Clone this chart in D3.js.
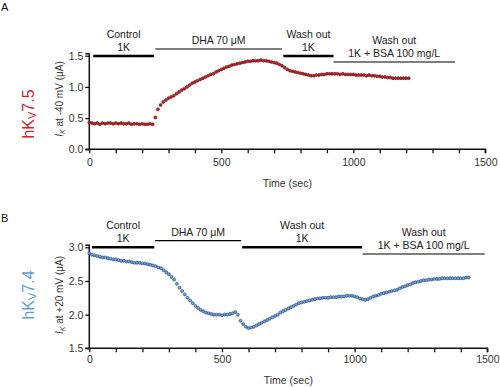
<!DOCTYPE html>
<html>
<head>
<meta charset="utf-8">
<script src="https://cdn.jsdelivr.net/npm/d3@7"></script>
<style>
  body { margin: 0; background: #fff; }
  text { font-family: "Liberation Sans", Arial, sans-serif; }
</style>
</head>
<body>
<div id="chart"></div>
<script>
// panel A: hKv7.5, current at -40 mV (uA), read every 10 s
const timeA = [0,10,20,30,40,50,60,70,80,90,100,110,120,130,140,150,160,170,180,190,200,210,220,230,240,
  250,260,270,280,290,300,310,320,330,340,350,360,370,380,390,400,410,420,430,440,450,460,470,480,490,
  500,510,520,530,540,550,560,570,580,590,600,610,620,630,640,650,660,670,680,690,700,710,720,730,740,
  750,760,770,780,790,800,810,820,830,840,850,860,870,880,890,900,910,920,930,940,950,960,970,980,990,
  1000,1010,1020,1030,1040,1050,1060,1070,1080,1090,1100,1110,1120,1130,1140,1150,1160,1170,1180,1190,1200,1210];
const currentA = [0.43,0.42,0.41,0.42,0.40,0.42,0.41,0.42,0.42,0.41,0.42,0.41,0.42,0.41,0.41,0.42,0.40,0.41,0.41,0.40,0.41,0.40,0.40,0.41,0.40,
  0.51,0.64,0.71,0.76,0.79,0.82,0.84,0.86,0.89,0.92,0.95,0.97,1.00,1.03,1.06,1.08,1.10,1.12,1.14,1.16,1.18,1.20,1.21,1.24,1.26,
  1.28,1.30,1.32,1.33,1.35,1.36,1.37,1.38,1.39,1.40,1.41,1.41,1.42,1.42,1.42,1.43,1.42,1.42,1.41,1.40,1.39,1.38,1.36,1.34,1.31,
  1.28,1.26,1.25,1.24,1.23,1.22,1.21,1.20,1.19,1.18,1.18,1.19,1.19,1.20,1.20,1.21,1.21,1.21,1.21,1.21,1.20,1.21,1.20,1.20,1.20,
  1.20,1.19,1.19,1.19,1.19,1.18,1.19,1.18,1.18,1.17,1.17,1.16,1.16,1.15,1.15,1.14,1.14,1.14,1.14,1.14,1.14,1.14];

// panel B: hKv7.4, current at +20 mV (uA), read every 10 s
const timeB = [0,10,20,30,40,50,60,70,80,90,100,110,120,130,140,150,160,170,180,190,200,210,220,230,240,
  250,260,270,280,290,300,310,320,330,340,350,360,370,380,390,400,410,420,430,440,450,460,470,480,490,
  500,510,520,530,540,550,560,570,580,590,600,610,620,630,640,650,660,670,680,690,700,710,720,730,740,
  750,760,770,780,790,800,810,820,830,840,850,860,870,880,890,900,910,920,930,940,950,960,970,980,990,
  1000,1010,1020,1030,1040,1050,1060,1070,1080,1090,1100,1110,1120,1130,1140,1150,1160,1170,1180,1190,
  1200,1210,1220,1230,1240,1250,1260,1270,1280,1290,1300,1310,1320,1330,1340,1350,1360,1370,1380,1390,
  1400,1410,1420,1430];
const currentB = [2.91,2.89,2.88,2.87,2.86,2.85,2.85,2.84,2.83,2.82,2.82,2.81,2.80,2.80,2.79,2.79,2.78,2.77,2.77,2.77,2.76,2.76,2.75,2.74,2.73,
  2.72,2.70,2.69,2.66,2.63,2.60,2.56,2.52,2.46,2.40,2.35,2.30,2.25,2.21,2.17,2.13,2.10,2.07,2.05,2.03,2.02,2.01,2.00,2.00,2.00,
  1.99,2.00,2.00,2.01,2.02,2.04,2.00,1.91,1.86,1.82,1.80,1.81,1.82,1.84,1.86,1.88,1.90,1.92,1.94,1.96,1.98,2.00,2.03,2.05,2.07,
  2.09,2.11,2.13,2.15,2.17,2.18,2.19,2.20,2.21,2.22,2.23,2.24,2.24,2.25,2.25,2.25,2.26,2.26,2.26,2.27,2.27,2.27,2.28,2.28,2.28,
  2.27,2.26,2.24,2.23,2.22,2.23,2.25,2.27,2.28,2.29,2.31,2.32,2.33,2.34,2.35,2.36,2.37,2.39,2.41,2.42,
  2.44,2.45,2.47,2.48,2.49,2.50,2.51,2.51,2.52,2.52,2.53,2.53,2.53,2.54,2.54,2.54,2.54,2.54,2.54,2.54,
  2.54,2.54,2.55,2.55];

const xTicks = [0, 500, 1000, 1500];
const yTicksA = [0.0, 0.5, 1.0, 1.5];
const yTicksB = [1.5, 2.0, 2.5, 3.0];

// solution periods: start, end (sec), label lines, thick bar or not
const periodsA = [
  {start: 15, end: 245, lines: ["Control", "1K"], thick: true},
  {start: 250, end: 730, lines: ["DHA 70 μM"], thick: false},
  {start: 735, end: 925, lines: ["Wash out", "1K"], thick: true},
  {start: 925, end: 1385, lines: ["Wash out", "1K + BSA 100 mg/L"], thick: false}
];
const periodsB = [
  {start: 10, end: 245, lines: ["Control", "1K"], thick: true},
  {start: 248, end: 572, lines: ["DHA 70 μM"], thick: false},
  {start: 576, end: 1028, lines: ["Wash out", "1K"], thick: true},
  {start: 1030, end: 1490, lines: ["Wash out", "1K + BSA 100 mg/L"], thick: false}
];

const svg = d3.select("#chart").append("svg")
  .attr("width", 500)
  .attr("height", 387);

function drawPanel(p) {
  const x = d3.scaleLinear().domain([0, 1500]).range([89.3, p.right]);
  const y = d3.scaleLinear().domain(p.yDomain).range([p.bottom, p.top]);
  const g = svg.append("g");

  // minor ticks every 100 s
  const xAxis = d3.axisBottom(x)
    .tickValues(d3.range(0, 1501, 100))
    .tickSize(4)
    .tickPadding(p.xPad)
    .tickFormat(d => xTicks.includes(d) ? d : "");
  const gx = g.append("g")
    .attr("transform", `translate(0,${p.bottom})`)
    .call(xAxis);

  const yAxis = d3.axisLeft(y)
    .tickValues(p.yTicks)
    .tickSize(4)
    .tickPadding(2)
    .tickFormat(d3.format(".1f"));
  const gy = g.append("g")
    .attr("transform", `translate(89.3,0)`)
    .call(yAxis);

  [gx, gy].forEach(a => {
    a.select(".domain").attr("stroke-width", 1.5).attr("stroke", "#111");
    a.selectAll(".tick line").attr("stroke-width", 1.3).attr("stroke", "#111");
    a.selectAll("text").attr("font-size", 10.5).attr("fill", "#333")
      .attr("font-family", "Liberation Sans, Arial, sans-serif");
  });
  gy.select(".domain").attr("d", `M-4,${p.bottom}H0V${p.top - 2}H-4`);
  gx.select(".domain").attr("d", `M${x(0)},0H${x(1500)}V4`);

  // data dots
  g.selectAll("circle")
    .data(p.times.map((t, i) => ({t: t, v: p.values[i]})))
    .join("circle")
    .attr("cx", d => x(d.t))
    .attr("cy", d => y(d.v))
    .attr("r", 1.5)
    .attr("fill", p.dotFill)
    .attr("stroke", p.dotStroke)
    .attr("stroke-width", 0.6);

  // period bars + labels
  p.periods.forEach((d, i) => {
    const barY = p.barY[i];
    g.append("line")
      .attr("x1", x(d.start)).attr("x2", x(d.end))
      .attr("y1", barY).attr("y2", barY)
      .attr("stroke", "#000")
      .attr("stroke-width", d.thick ? 2.6 : 1.2);
    const cx = (x(d.start) + x(d.end)) / 2;
    const n = d.lines.length;
    d.lines.forEach((line, j) => {
      g.append("text")
        .attr("x", cx)
        .attr("y", barY - 5 - (n - 1 - j) * 13)
        .attr("text-anchor", "middle")
        .attr("font-size", 10.5)
        .attr("fill", "#222")
        .text(line);
    });
  });

  // axis titles
  g.append("text")
    .attr("x", (x(0) + x(1500)) / 2)
    .attr("y", p.xTitleY)
    .attr("text-anchor", "middle")
    .attr("font-size", 10.5)
    .attr("fill", "#333")
    .text("Time (sec)");

  const yt = g.append("text")
    .attr("transform", `translate(63,${p.yTitleY}) rotate(-90)`)
    .attr("text-anchor", "middle")
    .attr("font-size", 10)
    .attr("fill", "#333");
  yt.append("tspan").attr("font-style", "italic").text("I");
  yt.append("tspan").attr("font-style", "italic").attr("font-size", 7)
    .attr("baseline-shift", "-2").text("K");
  yt.append("tspan").text(p.yTitle);

  // channel name
  const ch = g.append("text")
    .attr("transform", `translate(34,${p.nameY}) rotate(-90)`)
    .attr("text-anchor", "middle")
    .attr("font-size", 16)
    .attr("fill", p.nameColor);
  ch.append("tspan").text("hK");
  ch.append("tspan").attr("font-size", 11).attr("baseline-shift", "-2").text("V");
  ch.append("tspan").text(p.nameNum);

  // panel letter
  svg.append("text")
    .attr("x", 1).attr("y", p.letterY)
    .attr("font-size", 11)
    .attr("fill", "#111")
    .text(p.letter);
}

drawPanel({
  letter: "A", letterY: 11,
  times: timeA, values: currentA,
  yDomain: [0, 1.5], yTicks: yTicksA,
  top: 55.7, bottom: 149.3, right: 485.3, xPad: 5,
  periods: periodsA, barY: [56, 49, 56, 62],
  dotFill: "#b3262c", dotStroke: "#701015",
  xTitleY: 187, yTitleY: 99, nameY: 114,
  yTitle: " at -40 mV (μA)",
  nameColor: "#d4262d", nameNum: "7.5"
});

drawPanel({
  letter: "B", letterY: 222,
  times: timeB, values: currentB,
  yDomain: [1.5, 3.0], yTicks: yTicksB,
  top: 247.3, bottom: 348.3, right: 487.3, xPad: 3,
  periods: periodsB, barY: [247.3, 240.7, 247.3, 254],
  dotFill: "#6fa5dc", dotStroke: "#203c6e",
  xTitleY: 384, yTitleY: 295, nameY: 295,
  yTitle: " at +20 mV (μA)",
  nameColor: "#5f9fd8", nameNum: "7.4"
});
</script>
</body>
</html>
